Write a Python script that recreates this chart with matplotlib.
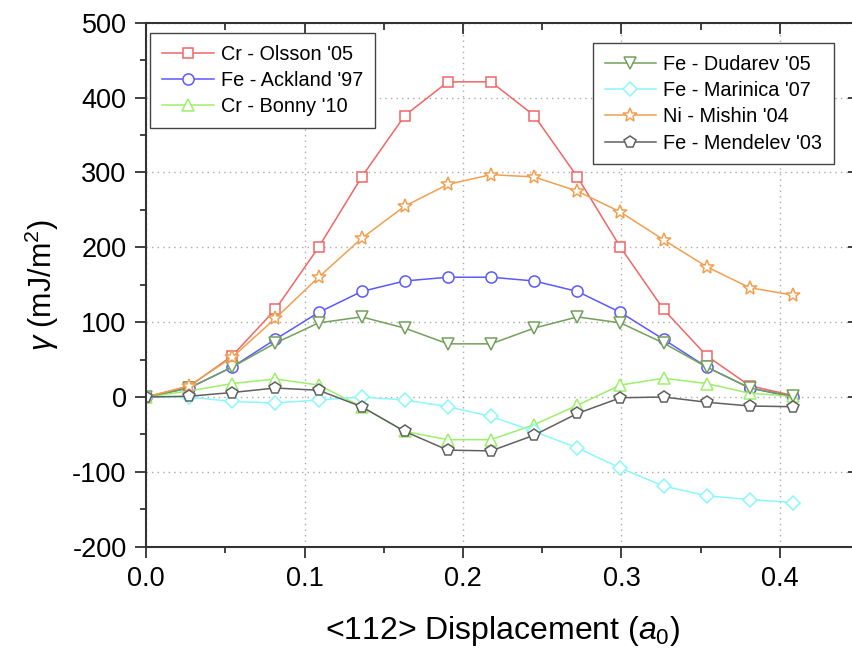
import matplotlib
matplotlib.use("Agg")
import matplotlib.pyplot as plt
from matplotlib.ticker import MultipleLocator, FormatStrFormatter

# <112> displacement in units of a0 (16 steps up to sqrt(6)/6)
disp = [0.0, 0.0272, 0.0544, 0.0816, 0.1089, 0.1361, 0.1633, 0.1905,
        0.2177, 0.2449, 0.2722, 0.2994, 0.3266, 0.3538, 0.3810, 0.4082]

# gamma surface energies, mJ/m^2
cr_olsson = [0, 14, 55, 117, 200, 294, 376, 421, 421, 376, 294, 200, 117, 55, 15, 2]
fe_ackland = [0, 12, 40, 77, 113, 141, 155, 160, 160, 155, 141, 113, 77, 40, 12, 0]
cr_bonny = [0, 8, 18, 24, 16, -13, -46, -57, -57, -37, -11, 16, 25, 18, 5, 1]
fe_dudarev = [0, 12, 40, 72, 99, 107, 92, 71, 71, 92, 107, 99, 72, 40, 12, 1]
fe_marinica = [0, 0, -6, -8, -4, 0, -4, -13, -26, -46, -68, -95, -119, -132, -137, -141]
ni_mishin = [0, 15, 53, 105, 160, 212, 255, 284, 297, 294, 275, 247, 210, 174, 146, 136]
fe_mendelev = [0, 1, 6, 12, 9, -13, -46, -71, -72, -51, -22, -1, 0, -7, -12, -13]

series = [
    ("Cr - Olsson '05", cr_olsson, "#f06666", "s", 7.5),
    ("Fe - Ackland '97", fe_ackland, "#5a5aff", "o", 8.0),
    ("Cr - Bonny '10", cr_bonny, "#9cf06a", "^", 8.5),
    ("Fe - Dudarev '05", fe_dudarev, "#74a05a", "v", 8.5),
    ("Fe - Marinica '07", fe_marinica, "#8cf8f8", "D", 7.0),
    ("Ni - Mishin '04", ni_mishin, "#f0a050", "*", 10.0),
    ("Fe - Mendelev '03", fe_mendelev, "#606060", "p", 8.5),
]

XLIM = (0, 0.45)
YLIM = (-200, 500)
AX_COLOR = "#333333"

plt.rcParams["font.family"] = ["Liberation Sans", "DejaVu Sans"]
plt.rcParams["axes.unicode_minus"] = False
plt.rcParams["mathtext.fontset"] = "custom"
plt.rcParams["mathtext.rm"] = "Liberation Sans"
plt.rcParams["mathtext.it"] = "Liberation Sans:italic"

fig = plt.figure(figsize=(8.53, 6.51), dpi=100)
# right edge of the frame lands a few pixels past the canvas, as in the source
ax = fig.add_axes([0.1712, 0.1602, 0.836, 0.8049])

lines = []
for label, vals, color, marker, ms in series:
    (ln,) = ax.plot(disp, vals, color=color, lw=1.1, marker=marker, ms=ms,
                    mfc="white", mec=color, mew=1.1, label=label)
    lines.append(ln)

ax.set_xlim(*XLIM)
ax.set_ylim(*YLIM)
ax.xaxis.set_major_locator(MultipleLocator(0.1))
ax.xaxis.set_minor_locator(MultipleLocator(0.05))
ax.yaxis.set_major_locator(MultipleLocator(100))
ax.yaxis.set_minor_locator(MultipleLocator(50))
ax.xaxis.set_major_formatter(FormatStrFormatter("%.1f"))

ax.grid(True, which="major", ls=(0, (1, 3)), color="#aaaaaa", lw=1.0)
ax.set_axisbelow(True)

# ticks out on bottom/left ...
ax.tick_params(axis="both", which="major", direction="out", length=8, width=1.3,
               labelsize=19.5, color=AX_COLOR, pad=6)
ax.tick_params(axis="both", which="minor", direction="out", length=4, width=1.3,
               color=AX_COLOR)
for spine in ax.spines.values():
    spine.set_linewidth(1.5)
    spine.set_color(AX_COLOR)
ax.spines["right"].set_visible(False)

# ... and mirrored inward on top/right
ax_top = ax.twiny()
ax_top.set_xlim(*XLIM)
ax_top.xaxis.set_major_locator(MultipleLocator(0.1))
ax_top.xaxis.set_minor_locator(MultipleLocator(0.05))
ax_top.tick_params(which="major", direction="in", length=8, width=1.3,
                   labeltop=False, color=AX_COLOR)
ax_top.tick_params(which="minor", direction="in", length=5, width=1.3, color=AX_COLOR)
for spine in ax_top.spines.values():
    spine.set_visible(False)

ax_right = ax.twinx()
ax_right.set_ylim(*YLIM)
ax_right.yaxis.set_major_locator(MultipleLocator(100))
ax_right.yaxis.set_minor_locator(MultipleLocator(50))
ax_right.tick_params(which="major", direction="in", length=8, width=1.3,
                     labelright=False, color=AX_COLOR)
ax_right.tick_params(which="minor", direction="in", length=4, width=1.3, color=AX_COLOR)
for spine in ax_right.spines.values():
    spine.set_visible(False)

ax.set_xlabel(r"<112> Displacement ($\mathit{a}_{\mathrm{0}}$)", fontsize=23, labelpad=16)
ax.set_ylabel(r"$\mathit{\gamma}$ (mJ/m$^{2}$)", fontsize=22, labelpad=8)

leg_kw = dict(fontsize=14.3, frameon=True, fancybox=False, borderaxespad=0,
              handlelength=2.6, handletextpad=0.35, labelspacing=0.36,
              borderpad=0.6, framealpha=1)
leg1 = ax_right.legend(handles=lines[:3], loc="upper left",
                       bbox_to_anchor=(0.0056, 0.980), **leg_kw)
leg1.get_frame().set_edgecolor("#444444")
leg1.get_frame().set_linewidth(1.0)
ax_right.add_artist(leg1)
leg2 = ax_right.legend(handles=lines[3:], loc="upper right",
                       bbox_to_anchor=(0.965, 0.961), **leg_kw)
leg2.get_frame().set_edgecolor("#444444")
leg2.get_frame().set_linewidth(1.0)

fig.savefig("out.png", dpi=100)
